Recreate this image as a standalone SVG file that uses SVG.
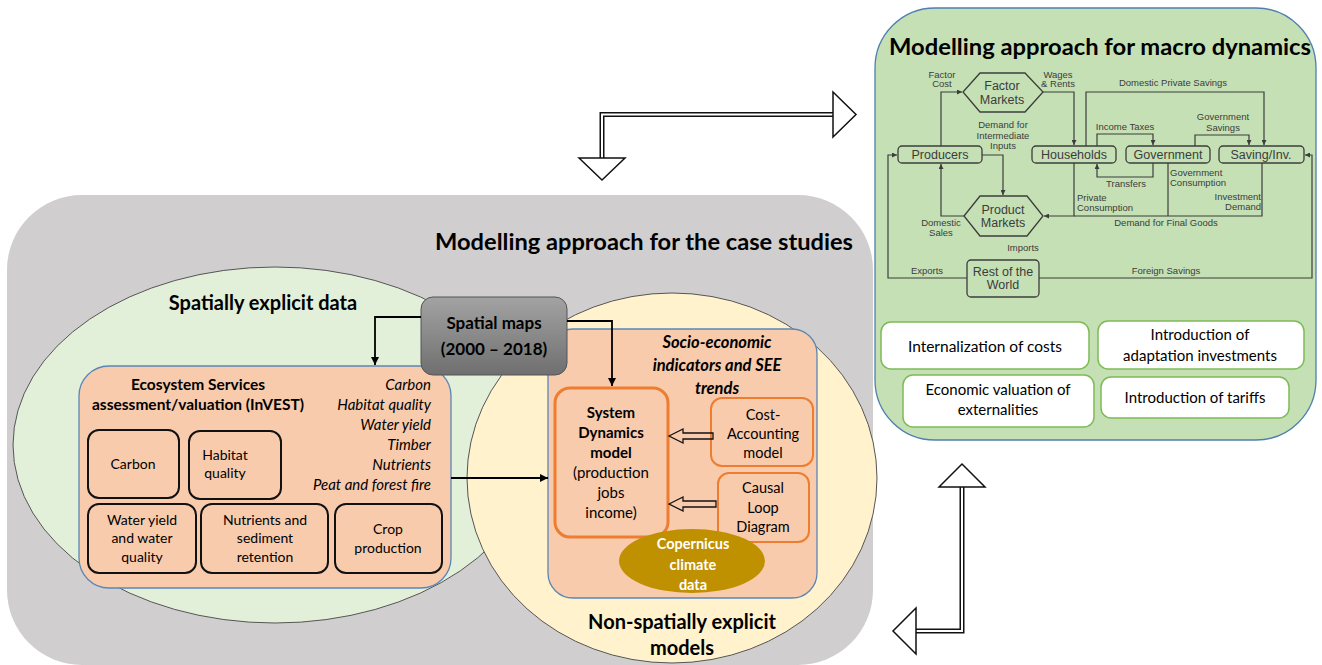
<svg xmlns="http://www.w3.org/2000/svg" width="1322" height="665" viewBox="0 0 1322 665">
<defs>
<style>
.ti{font-family:Lato,"Liberation Sans",sans-serif;font-weight:bold;fill:#000}
.tx{font-family:Lato,"Liberation Sans",sans-serif;fill:#000}
.it{font-family:Lato,"Liberation Sans",sans-serif;font-style:italic;font-size:15px;fill:#000;text-anchor:end}
.c{text-anchor:middle}
.ml{font-family:"Liberation Sans",Arial,sans-serif;font-size:9.5px;fill:#3c3c3c}
.mn{font-family:"Liberation Sans",Arial,sans-serif;font-size:12.5px;fill:#3c3c3c;text-anchor:middle}
.mline{fill:none;stroke:#3c3c3c;stroke-width:1.2}
.ma{marker-end:url(#ma)}
.mbox{fill:none;stroke:#3c3c3c;stroke-width:1.3}
.sub{fill:none;stroke:#111;stroke-width:2}
.ob{fill:none;stroke:#ed7d31}
.wb{fill:#fff;stroke:#7dbb55;stroke-width:1.5}
.conn{fill:none;stroke:#000;stroke-width:1.8;marker-end:url(#ar)}
.shaftO{fill:none;stroke:#111;stroke-width:5}
.shaftI{fill:none;stroke:#fff;stroke-width:2}
.head{fill:#fff;stroke:#111;stroke-width:1.5;stroke-linejoin:miter}
.hol{fill:none;stroke:#111;stroke-width:1.3}
</style>
<marker id="ma" viewBox="0 0 10 10" refX="10" refY="5" markerWidth="5" markerHeight="5" markerUnits="userSpaceOnUse" orient="auto"><path d="M0,0 L10,5 L0,10 z" fill="#3c3c3c"/></marker>
<marker id="ar" viewBox="0 0 10 10" refX="10" refY="5" markerWidth="8" markerHeight="8" markerUnits="userSpaceOnUse" orient="auto"><path d="M0,0 L10,5 L0,10 z" fill="#000"/></marker>
<linearGradient id="gm" x1="0" y1="0" x2="0" y2="1"><stop offset="0" stop-color="#a3a3a3"/><stop offset="1" stop-color="#6f6f6f"/></linearGradient>
</defs>

<!-- Case study panel -->
<g id="case-panel">
<rect x="7" y="195" width="866" height="470" rx="75" fill="#d0cece"/>
<text class="ti c" x="644" y="250" font-size="22" textLength="418" lengthAdjust="spacingAndGlyphs">Modelling approach for the case studies</text>
</g>

<g id="spatial-ellipse">
<ellipse cx="275" cy="445" rx="262" ry="178" fill="#e2efd9" stroke="#555" stroke-width="1"/>
<text class="ti c" x="263" y="310" font-size="20">Spatially explicit data</text>
</g>

<g id="nonspatial-ellipse">
<ellipse cx="672" cy="478" rx="205" ry="185" fill="#fff2cc" stroke="#555" stroke-width="1"/>
<text class="ti c" x="682" y="629" font-size="20">Non-spatially explicit</text>
<text class="ti c" x="682" y="655" font-size="20">models</text>
</g>

<!-- Macro panel -->
<g id="macro-panel">
<path d="M935,8 H1256 A60,60 0 0 1 1316,68 V380 A60,60 0 0 1 1256,440 H935 A60,60 0 0 1 875,380 V68 A60,60 0 0 1 935,8 Z" fill="#c5e0b4" stroke="#4f7fb0" stroke-width="1.3"/>
<text class="ti c" x="1100" y="55" font-size="22" textLength="422" lengthAdjust="spacingAndGlyphs">Modelling approach for macro dynamics</text>
</g>

<!-- Macro flow diagram -->
<g id="macro-connectors">
<path class="mline ma" d="M941,146 V92 H962"/>
<path class="mline ma" d="M1043,92 H1074 V145"/>
<path class="mline ma" d="M982,155 H1003 V195"/>
<path class="mline ma" d="M964,216 H941 V164"/>
<path class="mline ma" d="M1074,163 V216 H1044"/>
<path class="mline" d="M1168,163 V216"/>
<path class="mline" d="M1262,163 V216 H1074"/>
<path class="mline ma" d="M1086,146 V92 H1264 V145"/>
<path class="mline ma" d="M1097,146 V134 H1153 V145"/>
<path class="mline ma" d="M1195,146 V135 H1249 V145"/>
<path class="mline ma" d="M1153,163 V177 H1097 V164"/>
<path class="mline ma" d="M967,278 H888 V155 H897"/>
<path class="mline ma" d="M1039,278 H1312 V155 H1305"/>
</g>
<g id="m-factor-markets">
<polygon class="mbox" points="963,92 980,73 1025,73 1043,92 1025,112 980,112"/>
<text class="mn" x="1002" y="90">Factor</text>
<text class="mn" x="1002" y="104">Markets</text>
</g>
<g id="m-product-markets">
<polygon class="mbox" points="964,216 980,196 1027,196 1043,216 1027,236 980,236"/>
<text class="mn" x="1003" y="214">Product</text>
<text class="mn" x="1003" y="227">Markets</text>
</g>
<g id="m-producers"><rect class="mbox" x="898" y="146" width="84" height="17" rx="4"/><text class="mn" x="940" y="159">Producers</text></g>
<g id="m-households"><rect class="mbox" x="1032" y="146" width="84" height="17" rx="4"/><text class="mn" x="1074" y="159">Households</text></g>
<g id="m-government"><rect class="mbox" x="1126" y="146" width="84" height="17" rx="4"/><text class="mn" x="1168" y="159">Government</text></g>
<g id="m-saving"><rect class="mbox" x="1219" y="146" width="85" height="17" rx="4"/><text class="mn" x="1261" y="159">Saving/Inv.</text></g>
<g id="m-rest-world"><rect class="mbox" x="967" y="260" width="72" height="37" rx="4"/><text class="mn" x="1003" y="276">Rest of the</text><text class="mn" x="1003" y="289">World</text></g>
<g id="macro-labels">
<text class="ml c" x="942" y="78">Factor</text>
<text class="ml c" x="942" y="87">Cost</text>
<text class="ml c" x="1058" y="78">Wages</text>
<text class="ml c" x="1058" y="87">&amp; Rents</text>
<text class="ml c" x="1003" y="128">Demand for</text>
<text class="ml c" x="1003" y="139">Intermediate</text>
<text class="ml c" x="1003" y="149">Inputs</text>
<text class="ml c" x="1173" y="86">Domestic Private Savings</text>
<text class="ml c" x="1125" y="130">Income Taxes</text>
<text class="ml c" x="1223" y="120">Government</text>
<text class="ml c" x="1223" y="131">Savings</text>
<text class="ml c" x="1126" y="187">Transfers</text>
<text class="ml" x="1170" y="176">Government</text>
<text class="ml" x="1170" y="186">Consumption</text>
<text class="ml" x="1077" y="201">Private</text>
<text class="ml" x="1077" y="211">Consumption</text>
<text class="ml" x="1261" y="200" text-anchor="end">Investment</text>
<text class="ml" x="1261" y="210" text-anchor="end">Demand</text>
<text class="ml c" x="1166" y="226">Demand for Final Goods</text>
<text class="ml c" x="941" y="226">Domestic</text>
<text class="ml c" x="941" y="236">Sales</text>
<text class="ml c" x="1023" y="251">Imports</text>
<text class="ml c" x="927" y="274">Exports</text>
<text class="ml c" x="1166" y="274">Foreign Savings</text>
</g>

<g id="box-internalization"><rect class="wb" x="881" y="322" width="208" height="47" rx="10"/><text class="tx c" x="985" y="352" font-size="15.5">Internalization of costs</text></g>
<g id="box-adaptation"><rect class="wb" x="1098" y="321" width="206" height="48" rx="10"/><text class="tx c" x="1200" y="340" font-size="15">Introduction of</text><text class="tx c" x="1200" y="361" font-size="15">adaptation investments</text></g>
<g id="box-valuation"><rect class="wb" x="903" y="375" width="191" height="52" rx="10"/><text class="tx c" x="998" y="395" font-size="15">Economic valuation of</text><text class="tx c" x="998" y="415" font-size="15">externalities</text></g>
<g id="box-tariffs"><rect class="wb" x="1101" y="377" width="188" height="41" rx="10"/><text class="tx c" x="1195" y="403" font-size="15">Introduction of tariffs</text></g>

<!-- Ecosystem services -->
<g id="ecosystem-services">
<rect x="79" y="366" width="372" height="222" rx="30" fill="#f8cbad" stroke="#5a86b8" stroke-width="1.3"/>
<text class="ti c" x="198" y="390" font-size="15.5">Ecosystem Services</text>
<text class="ti c" x="198" y="410" font-size="15.5">assessment/valuation (InVEST)</text>
<text class="it" x="431" y="390">Carbon</text>
<text class="it" x="431" y="410">Habitat quality</text>
<text class="it" x="431" y="430">Water yield</text>
<text class="it" x="431" y="450">Timber</text>
<text class="it" x="431" y="470">Nutrients</text>
<text class="it" x="431" y="490">Peat and forest fire</text>
</g>
<g id="es-carbon"><rect class="sub" x="88" y="430" width="91" height="68" rx="11"/><text class="tx c" x="133" y="469" font-size="14">Carbon</text></g>
<g id="es-habitat"><rect class="sub" x="189" y="431" width="92" height="68" rx="11"/><text class="tx c" x="225" y="460" font-size="14">Habitat</text><text class="tx c" x="225" y="478" font-size="14">quality</text></g>
<g id="es-water"><rect class="sub" x="88" y="504" width="108" height="69" rx="11"/><text class="tx c" x="142" y="525" font-size="14">Water yield</text><text class="tx c" x="142" y="543" font-size="14">and water</text><text class="tx c" x="142" y="562" font-size="14">quality</text></g>
<g id="es-nutrients"><rect class="sub" x="201" y="504" width="127" height="69" rx="11"/><text class="tx c" x="265" y="525" font-size="14">Nutrients and</text><text class="tx c" x="265" y="543" font-size="14">sediment</text><text class="tx c" x="265" y="562" font-size="14">retention</text></g>
<g id="es-crop"><rect class="sub" x="335" y="504" width="107" height="69" rx="11"/><text class="tx c" x="388" y="534" font-size="14">Crop</text><text class="tx c" x="388" y="553" font-size="14">production</text></g>

<!-- Socio-economic -->
<g id="socio-economic">
<rect x="548" y="329" width="269" height="269" rx="25" fill="#f8cbad" stroke="#5a86b8" stroke-width="1.3"/>
<text class="ti c" x="717" y="348" font-size="16.5" font-style="italic">Socio-economic</text>
<text class="ti c" x="717" y="371" font-size="16.5" font-style="italic">indicators and SEE</text>
<text class="ti c" x="717" y="394" font-size="16.5" font-style="italic">trends</text>
</g>
<g id="system-dynamics"><rect class="ob" x="555" y="388" width="113" height="149" rx="15" stroke-width="3"/>
<text class="ti c" x="611" y="418" font-size="15">System</text>
<text class="ti c" x="611" y="438" font-size="15">Dynamics</text>
<text class="ti c" x="611" y="458" font-size="15">model</text>
<text class="tx c" x="611" y="478" font-size="15">(production</text>
<text class="tx c" x="611" y="498" font-size="15">jobs</text>
<text class="tx c" x="611" y="518" font-size="15">income)</text>
</g>
<g id="cost-accounting"><rect class="ob" x="711" y="398" width="102" height="68" rx="11" stroke-width="2"/>
<text class="tx c" x="763" y="420" font-size="14.5">Cost-</text>
<text class="tx c" x="763" y="439" font-size="14.5">Accounting</text>
<text class="tx c" x="763" y="458" font-size="14.5">model</text>
</g>
<g id="causal-loop"><rect class="ob" x="718" y="473" width="91" height="69" rx="11" stroke-width="2"/>
<text class="tx c" x="763" y="493" font-size="14.5">Causal</text>
<text class="tx c" x="763" y="513" font-size="14.5">Loop</text>
<text class="tx c" x="763" y="532" font-size="14.5">Diagram</text>
</g>
<g id="copernicus"><ellipse cx="692" cy="561" rx="73" ry="32" fill="#bf9000"/>
<text class="ti c" x="693" y="549" font-size="14.5" fill="#fff" style="fill:#fff">Copernicus</text>
<text class="ti c" x="693" y="570" font-size="14.5" style="fill:#fff">climate</text>
<text class="ti c" x="693" y="590" font-size="14.5" style="fill:#fff">data</text>
</g>

<!-- Spatial maps -->
<g id="spatial-maps">
<rect x="421" y="297" width="146" height="78" rx="12" fill="url(#gm)" stroke="#555" stroke-width="1"/>
<text class="ti c" x="494" y="329" font-size="17">Spatial maps</text>
<text class="ti c" x="494" y="355" font-size="17">(2000 – 2018)</text>
</g>

<!-- Connectors -->
<g id="connectors">
<path class="conn" d="M421,317 H375 V365"/>
<path class="conn" d="M567,321 H612 V386"/>
<path class="conn" d="M451,478 H548"/>
<polygon class="hol" points="669,436 683,429 683,433 713,433 713,439 683,439 683,443"/>
<polygon class="hol" points="669,504 683,497 683,501 716,501 716,507 683,507 683,511"/>
<path class="shaftO" d="M602,158 V114.5 H833"/>
<path class="shaftI" d="M602,158 V114.5 H833"/>
<polygon class="head" points="833,92 856,114.5 833,137"/>
<polygon class="head" points="579,158 602,180 625,158"/>
<path class="shaftO" d="M962,487 V631 H916"/>
<path class="shaftI" d="M962,487 V631 H916"/>
<polygon class="head" points="939,487 962,464 985,487"/>
<polygon class="head" points="916,608 893,631 916,654"/>
</g>
</svg>
